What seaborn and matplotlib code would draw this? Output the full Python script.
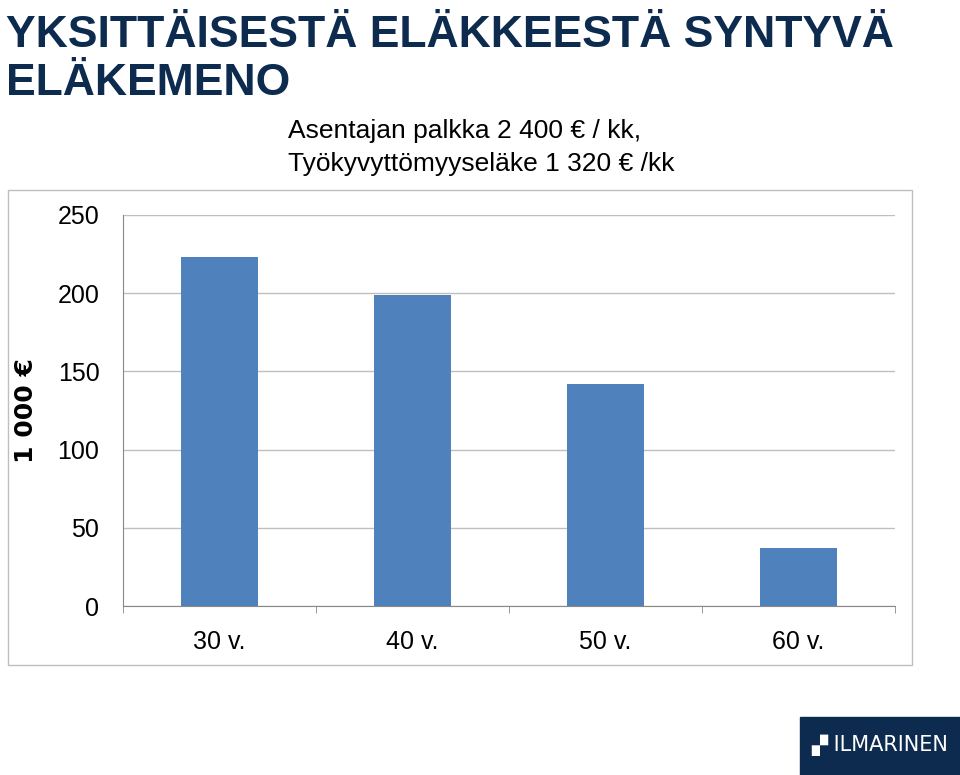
import matplotlib
matplotlib.use('Agg')
import matplotlib.pyplot as plt
import seaborn as sns
import pandas as pd
from matplotlib.patches import Rectangle

plt.rcParams['font.family'] = 'Liberation Sans'

categories = ['30 v.', '40 v.', '50 v.', '60 v.']
values = [223, 199, 142, 37]
yticks = [0, 50, 100, 150, 200, 250]

df = pd.DataFrame({'ika': categories, 'arvo': values})

fig = plt.figure(figsize=(9.6, 7.75), dpi=100)
# outer chart frame
fig.patches.append(Rectangle((8/960, 1-665/775), 904/960, 475/775, transform=fig.transFigure,
                             fill=False, edgecolor='#bfbfbf', linewidth=1))
ax = fig.add_axes([123/960, 1-606/775, 772/960, 391/775])
sns.barplot(data=df, x='ika', y='arvo', color='#4f81bd', width=0.4, saturation=1, ax=ax)
ax.set_ylim(0, 250)
ax.set_xlim(-0.5, 3.5)
ax.set_yticks(yticks)
ax.yaxis.grid(True, color='#bfbfbf', linewidth=1)
ax.set_axisbelow(True)
for s in ['top', 'right']:
    ax.spines[s].set_visible(False)
ax.spines['left'].set_color('#888888')
ax.spines['bottom'].set_color('#888888')
ax.tick_params(axis='y', length=0, labelsize=18, pad=17)
ax.set_xticks([-0.5, 0.5, 1.5, 2.5, 3.5], minor=True)
ax.tick_params(axis='x', which='minor', length=5, color='#888888')
ax.tick_params(axis='x', which='major', length=0, labelsize=18, pad=17)
ax.set_xlabel('')
ax.set_ylabel('1 000 €', fontsize=18, fontweight='bold', family='DejaVu Sans', labelpad=14)

fig.text(6/960, 1-47/775, 'YKSITTÄISESTÄ ELÄKKEESTÄ SYNTYVÄ', fontsize=32,
         fontweight='bold', color='#0d2a4f', va='baseline', ha='left')
fig.text(6/960, 1-95/775, 'ELÄKEMENO', fontsize=32,
         fontweight='bold', color='#0d2a4f', va='baseline', ha='left')
fig.text(288/960, 1-138/775, 'Asentajan palkka 2 400 € / kk,', fontsize=19, va='baseline', ha='left')
fig.text(288/960, 1-171/775, 'Työkyvyttömyyseläke 1 320 € /kk', fontsize=19, va='baseline', ha='left')

# logo
fig.patches.append(Rectangle((800/960, 1-775/775), 160/960, 58/775, transform=fig.transFigure,
                             color='#0d2a4f'))
fig.text(880/960, 1-745/775, '▞ ILMARINEN', fontsize=15, color='white', family='DejaVu Sans',
         ha='center', va='center')

fig.savefig('out.png', dpi=100)
